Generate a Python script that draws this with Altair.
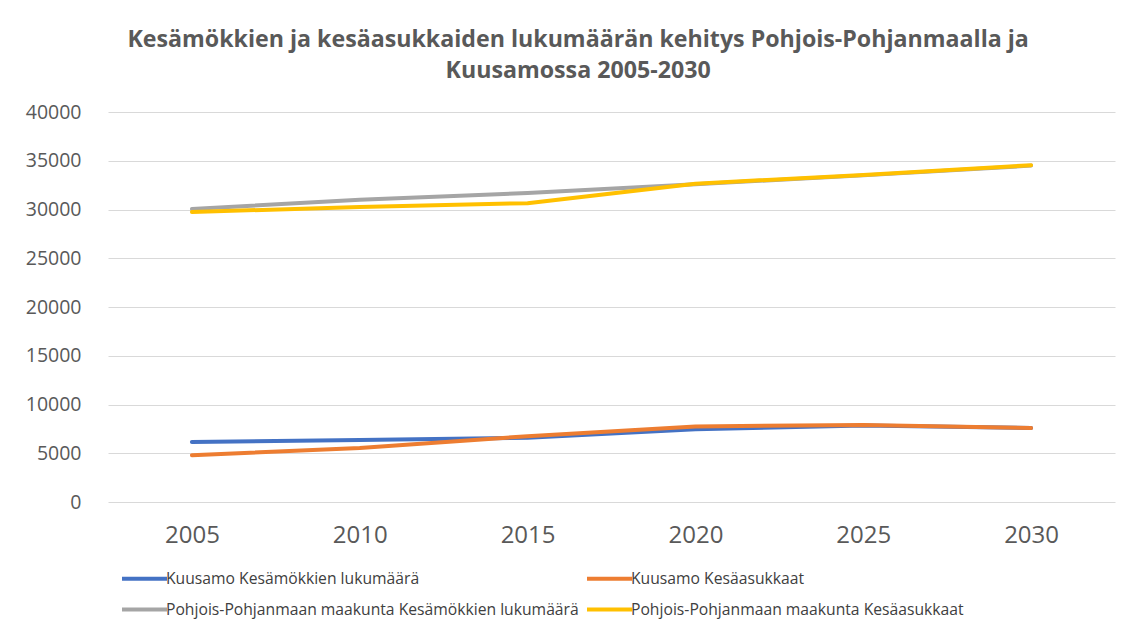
import altair as alt
import pandas as pd

years = ["2005", "2010", "2015", "2020", "2025", "2030"]
series_names = [
    "Kuusamo Kesämökkien lukumäärä",
    "Kuusamo Kesäasukkaat",
    "Pohjois-Pohjanmaan maakunta Kesämökkien lukumäärä",
    "Pohjois-Pohjanmaan maakunta Kesäasukkaat",
]
kuusamo_mokit = [6150, 6350, 6600, 7450, 7850, 7600]
kuusamo_asukkaat = [4800, 5550, 6750, 7750, 7900, 7600]
pp_mokit = [30050, 31000, 31700, 32600, 33500, 34500]
pp_asukkaat = [29750, 30250, 30650, 32650, 33550, 34550]
colors = ["#4472C4", "#ED7D31", "#A5A5A5", "#FFC000"]

rows = []
for name, vals in zip(series_names, [kuusamo_mokit, kuusamo_asukkaat, pp_mokit, pp_asukkaat]):
    for y, v in zip(years, vals):
        rows.append({"Vuosi": y, "Sarja": name, "Arvo": v})
df = pd.DataFrame(rows)

chart = (
    alt.Chart(df)
    .mark_line(strokeWidth=4, strokeCap="round", strokeJoin="round")
    .encode(
        x=alt.X(
            "Vuosi:O",
            sort=years,
            scale=alt.Scale(paddingOuter=0.5),
            axis=alt.Axis(
                title=None, labelAngle=0, domain=False, ticks=False, grid=False,
                labelFont="Open Sans", labelFontSize=24, labelColor="#595959",
                labelPadding=21,
            ),
        ),
        y=alt.Y(
            "Arvo:Q",
            scale=alt.Scale(domain=[0, 40000], nice=False),
            axis=alt.Axis(
                title=None, values=list(range(0, 40001, 5000)), format="d",
                domain=False, ticks=False, gridColor="#D9D9D9", gridWidth=1,
                labelFont="Open Sans", labelFontSize=19.5, labelColor="#595959",
                labelPadding=27,
            ),
        ),
        color=alt.Color(
            "Sarja:N",
            sort=series_names,
            scale=alt.Scale(domain=series_names, range=colors),
            legend=alt.Legend(
                title=None, orient="none", legendX=27, legendY=457,
                direction="horizontal", columns=2,
                symbolType="M-3,0H3", symbolStrokeWidth=4, symbolSize=225,
                labelFont="Open Sans", labelFontSize=15.7, labelColor="#404040",
                labelLimit=700, columnPadding=0, rowPadding=13,
                labelOffset=12, padding=0,
            ),
        ),
        order=alt.Order("Vuosi:O"),
    )
    .properties(
        width=1007,
        height=390,
        background="white",
        title=alt.TitleParams(
            text=[
                "Kesämökkien ja kesäasukkaiden lukumäärän kehitys Pohjois-Pohjanmaalla ja",
                "Kuusamossa 2005-2030",
            ],
            font="Open Sans", fontSize=23.2, fontWeight="bold", color="#595959",
            anchor="middle", frame="bounds", lineHeight=31, offset=19, dx=8,
        ),
        padding={"left": 17, "top": 19, "right": 20, "bottom": 5},
    )
    .configure_view(strokeWidth=0, stroke="transparent")
)

chart.save("out.html", embed_options={"renderer": "svg", "actions": False})
